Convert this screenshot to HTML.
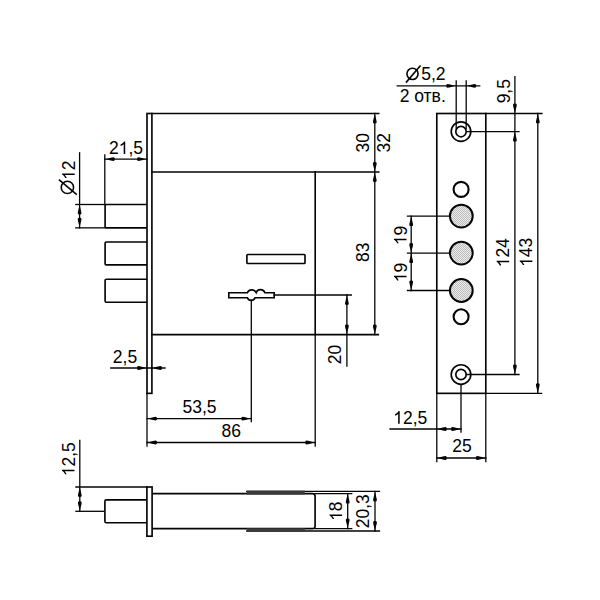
<!DOCTYPE html>
<html><head><meta charset="utf-8"><style>
html,body{margin:0;padding:0;background:#fff;width:600px;height:600px;overflow:hidden}
svg{display:block}
.o{stroke:#050505;stroke-width:1.65px}
.d{stroke:#050505;stroke-width:1.3px;stroke-linecap:square}
line.o{stroke-linecap:square}
.ar{fill:#050505;stroke:none}
.g1{fill:#000}
text{font-family:"Liberation Sans",sans-serif;font-size:17.5px;fill:#000}
</style></head><body>
<svg width="600" height="600" viewBox="0 0 600 600">
<defs><pattern id="hp" width="2" height="2" patternUnits="userSpaceOnUse"><rect width="2" height="2" fill="#ececec"/><rect width="1" height="1" fill="#bcbcbc"/><rect x="1" y="1" width="1" height="1" fill="#bcbcbc"/></pattern></defs>
<rect class="o" x="147.0" y="113.5" width="4.9" height="279.85" rx="0" fill="none"/>
<line class="o" x1="151.9" y1="113.5" x2="378.7" y2="113.5"/>
<line class="o" x1="151.9" y1="172.0" x2="378.7" y2="172.0"/>
<line class="o" x1="315.2" y1="172.0" x2="315.2" y2="334.6"/>
<line class="d" x1="315.2" y1="334.6" x2="315.2" y2="446"/>
<line class="o" x1="151.9" y1="334.6" x2="378.3" y2="334.6"/>
<rect class="o" x="246.9" y="254.5" width="58.1" height="9.0" rx="0.8" fill="none"/>
<path class="o" d="M228.8,292.7 H247.4 A4.93,4.93 0 0 1 256.2,292.5 A4.65,4.65 0 0 1 264.9,292.7 H274.2 V297.75 H255 A4.05,4.05 0 0 1 247.4,297.75 H228.8 Z" fill="#fff"/>
<line class="d" x1="274.2" y1="295" x2="351.3" y2="295"/>
<line class="d" x1="251.3" y1="300.3" x2="251.3" y2="421.7"/>
<path class="o" d="M147.0,204.5 H106.3 Q105.1,204.5 105.1,205.7 V226.65 Q105.1,227.85 106.3,227.85 H147.0" fill="none"/>
<path class="o" d="M147.0,242.0 H106.3 Q105.1,242.0 105.1,243.2 V263.65000000000003 Q105.1,264.85 106.3,264.85 H147.0" fill="none"/>
<path class="o" d="M147.0,279.2 H106.3 Q105.1,279.2 105.1,280.4 V301.0 Q105.1,302.2 106.3,302.2 H147.0" fill="none"/>
<line class="d" x1="75.8" y1="204.5" x2="105.1" y2="204.5"/>
<line class="d" x1="75.8" y1="227.85" x2="105.1" y2="227.85"/>
<line class="d" x1="79.6" y1="152.8" x2="79.6" y2="227.85"/>
<path class="ar" transform="translate(79.6,204.5) rotate(270)" d="M0,0 C-3.5,-0.5 -7,-1.9 -8.8,-1.9 Q-10,-1.9 -10,0 Q-10,1.9 -8.8,1.9 C-7,1.9 -3.5,0.5 0,0 Z"/>
<path class="ar" transform="translate(79.6,227.85) rotate(90)" d="M0,0 C-3.5,-0.5 -7,-1.9 -8.8,-1.9 Q-10,-1.9 -10,0 Q-10,1.9 -8.8,1.9 C-7,1.9 -3.5,0.5 0,0 Z"/>
<circle class="o" cx="67.4" cy="187.4" r="6.15" fill="none" style="stroke-width:1.6px"/>
<line class="o" x1="59.5" y1="180.1" x2="76.2" y2="194.1" style="stroke-width:1.6px"/>
<g transform="translate(68.35,170.25) rotate(-90) translate(-9.733,6.3)"><text x="0" y="0"> 2</text><path class="g1" transform="translate(0,0) scale(0.008545,-0.008545)" d="M763,0 H583 V1147 Q518,1085 412,1023 Q306,961 222,930 V1104 Q373,1175 486,1276 Q599,1377 646,1472 H763 Z"/></g>
<line class="d" x1="104.8" y1="155" x2="104.8" y2="204.5"/>
<line class="d" x1="104.8" y1="159.1" x2="147.0" y2="159.1"/>
<path class="ar" transform="translate(104.8,159.1) rotate(180)" d="M0,0 C-3.5,-0.5 -7,-1.9 -8.8,-1.9 Q-10,-1.9 -10,0 Q-10,1.9 -8.8,1.9 C-7,1.9 -3.5,0.5 0,0 Z"/>
<path class="ar" transform="translate(147.0,159.1) rotate(0)" d="M0,0 C-3.5,-0.5 -7,-1.9 -8.8,-1.9 Q-10,-1.9 -10,0 Q-10,1.9 -8.8,1.9 C-7,1.9 -3.5,0.5 0,0 Z"/>
<g transform="translate(108.97,154)"><text x="0" y="0">2 ,5</text><path class="g1" transform="translate(9.733,0) scale(0.008545,-0.008545)" d="M763,0 H583 V1147 Q518,1085 412,1023 Q306,961 222,930 V1104 Q373,1175 486,1276 Q599,1377 646,1472 H763 Z"/></g>
<line class="d" x1="110.8" y1="368" x2="165" y2="368"/>
<path class="ar" transform="translate(147.0,368) rotate(0)" d="M0,0 C-3.5,-0.5 -7,-1.9 -8.8,-1.9 Q-10,-1.9 -10,0 Q-10,1.9 -8.8,1.9 C-7,1.9 -3.5,0.5 0,0 Z"/>
<path class="ar" transform="translate(151.9,368) rotate(180)" d="M0,0 C-3.5,-0.5 -7,-1.9 -8.8,-1.9 Q-10,-1.9 -10,0 Q-10,1.9 -8.8,1.9 C-7,1.9 -3.5,0.5 0,0 Z"/>
<g transform="translate(112.836,362.5)"><text x="0" y="0">2,5</text></g>
<line class="d" x1="147.0" y1="393.35" x2="147.0" y2="446"/>
<line class="d" x1="147.0" y1="418.6" x2="251.3" y2="418.6"/>
<path class="ar" transform="translate(147.0,418.6) rotate(180)" d="M0,0 C-3.5,-0.5 -7,-1.9 -8.8,-1.9 Q-10,-1.9 -10,0 Q-10,1.9 -8.8,1.9 C-7,1.9 -3.5,0.5 0,0 Z"/>
<path class="ar" transform="translate(251.3,418.6) rotate(0)" d="M0,0 C-3.5,-0.5 -7,-1.9 -8.8,-1.9 Q-10,-1.9 -10,0 Q-10,1.9 -8.8,1.9 C-7,1.9 -3.5,0.5 0,0 Z"/>
<g transform="translate(182.47,413.2)"><text x="0" y="0">53,5</text></g>
<line class="d" x1="147.0" y1="442.5" x2="315.2" y2="442.5"/>
<path class="ar" transform="translate(147.0,442.5) rotate(180)" d="M0,0 C-3.5,-0.5 -7,-1.9 -8.8,-1.9 Q-10,-1.9 -10,0 Q-10,1.9 -8.8,1.9 C-7,1.9 -3.5,0.5 0,0 Z"/>
<path class="ar" transform="translate(315.2,442.5) rotate(0)" d="M0,0 C-3.5,-0.5 -7,-1.9 -8.8,-1.9 Q-10,-1.9 -10,0 Q-10,1.9 -8.8,1.9 C-7,1.9 -3.5,0.5 0,0 Z"/>
<g transform="translate(221.567,437.0)"><text x="0" y="0">86</text></g>
<line class="d" x1="374.8" y1="113.5" x2="374.8" y2="334.6"/>
<path class="ar" transform="translate(374.8,113.5) rotate(270)" d="M0,0 C-3.5,-0.5 -7,-1.9 -8.8,-1.9 Q-10,-1.9 -10,0 Q-10,1.9 -8.8,1.9 C-7,1.9 -3.5,0.5 0,0 Z"/>
<path class="ar" transform="translate(374.8,172.0) rotate(90)" d="M0,0 C-3.5,-0.5 -7,-1.9 -8.8,-1.9 Q-10,-1.9 -10,0 Q-10,1.9 -8.8,1.9 C-7,1.9 -3.5,0.5 0,0 Z"/>
<path class="ar" transform="translate(374.8,172.0) rotate(270)" d="M0,0 C-3.5,-0.5 -7,-1.9 -8.8,-1.9 Q-10,-1.9 -10,0 Q-10,1.9 -8.8,1.9 C-7,1.9 -3.5,0.5 0,0 Z"/>
<path class="ar" transform="translate(374.8,334.6) rotate(90)" d="M0,0 C-3.5,-0.5 -7,-1.9 -8.8,-1.9 Q-10,-1.9 -10,0 Q-10,1.9 -8.8,1.9 C-7,1.9 -3.5,0.5 0,0 Z"/>
<g transform="translate(363.0,142.75) rotate(-90) translate(-9.733,6.3)"><text x="0" y="0">30</text></g>
<g transform="translate(383.9,142.75) rotate(-90) translate(-9.733,6.3)"><text x="0" y="0">32</text></g>
<g transform="translate(362.8,252.2) rotate(-90) translate(-9.733,6.3)"><text x="0" y="0">83</text></g>
<line class="d" x1="346.9" y1="295" x2="346.9" y2="366"/>
<path class="ar" transform="translate(346.9,295) rotate(270)" d="M0,0 C-3.5,-0.5 -7,-1.9 -8.8,-1.9 Q-10,-1.9 -10,0 Q-10,1.9 -8.8,1.9 C-7,1.9 -3.5,0.5 0,0 Z"/>
<path class="ar" transform="translate(346.9,334.6) rotate(90)" d="M0,0 C-3.5,-0.5 -7,-1.9 -8.8,-1.9 Q-10,-1.9 -10,0 Q-10,1.9 -8.8,1.9 C-7,1.9 -3.5,0.5 0,0 Z"/>
<g transform="translate(335.1,354.4) rotate(-90) translate(-9.733,6.3)"><text x="0" y="0">20</text></g>
<rect class="o" x="436.8" y="113.5" width="49.0" height="279.85" rx="0" fill="none"/>
<line class="d" x1="485.8" y1="113.5" x2="542" y2="113.5"/>
<line class="d" x1="485.8" y1="393.35" x2="541.6" y2="393.35"/>
<circle class="o" cx="461" cy="131.6" r="9.8" fill="none"/>
<circle class="o" cx="461" cy="131.6" r="5.2" fill="none"/>
<circle class="o" cx="461" cy="374.5" r="9.8" fill="none"/>
<circle class="o" cx="461" cy="374.5" r="5.2" fill="none"/>
<circle class="o" cx="461.1" cy="189.4" r="7.5" fill="none" style="stroke-width:2.1px"/>
<circle class="o" cx="461.1" cy="316.7" r="7.5" fill="none" style="stroke-width:2.1px"/>
<circle class="o" cx="461.3" cy="216.1" r="11.4" fill="url(#hp)" style="stroke-width:2.0px"/>
<line class="d" x1="407.5" y1="216.1" x2="449.6" y2="216.1"/>
<circle class="o" cx="461.3" cy="253.1" r="11.4" fill="url(#hp)" style="stroke-width:2.0px"/>
<line class="d" x1="407.5" y1="253.1" x2="449.6" y2="253.1"/>
<circle class="o" cx="461.3" cy="290.5" r="11.4" fill="url(#hp)" style="stroke-width:2.0px"/>
<line class="d" x1="407.5" y1="290.5" x2="449.6" y2="290.5"/>
<line class="d" x1="411.2" y1="216.1" x2="411.2" y2="290.5"/>
<path class="ar" transform="translate(411.2,216.1) rotate(270)" d="M0,0 C-3.5,-0.5 -7,-1.9 -8.8,-1.9 Q-10,-1.9 -10,0 Q-10,1.9 -8.8,1.9 C-7,1.9 -3.5,0.5 0,0 Z"/>
<path class="ar" transform="translate(411.2,253.1) rotate(90)" d="M0,0 C-3.5,-0.5 -7,-1.9 -8.8,-1.9 Q-10,-1.9 -10,0 Q-10,1.9 -8.8,1.9 C-7,1.9 -3.5,0.5 0,0 Z"/>
<path class="ar" transform="translate(411.2,253.1) rotate(270)" d="M0,0 C-3.5,-0.5 -7,-1.9 -8.8,-1.9 Q-10,-1.9 -10,0 Q-10,1.9 -8.8,1.9 C-7,1.9 -3.5,0.5 0,0 Z"/>
<path class="ar" transform="translate(411.2,290.5) rotate(90)" d="M0,0 C-3.5,-0.5 -7,-1.9 -8.8,-1.9 Q-10,-1.9 -10,0 Q-10,1.9 -8.8,1.9 C-7,1.9 -3.5,0.5 0,0 Z"/>
<g transform="translate(400.25,235.5) rotate(-90) translate(-9.733,6.3)"><text x="0" y="0"> 9</text><path class="g1" transform="translate(0,0) scale(0.008545,-0.008545)" d="M763,0 H583 V1147 Q518,1085 412,1023 Q306,961 222,930 V1104 Q373,1175 486,1276 Q599,1377 646,1472 H763 Z"/></g>
<g transform="translate(400.25,272.6) rotate(-90) translate(-9.733,6.3)"><text x="0" y="0"> 9</text><path class="g1" transform="translate(0,0) scale(0.008545,-0.008545)" d="M763,0 H583 V1147 Q518,1085 412,1023 Q306,961 222,930 V1104 Q373,1175 486,1276 Q599,1377 646,1472 H763 Z"/></g>
<line class="d" x1="466.7" y1="131.6" x2="519" y2="131.6"/>
<line class="d" x1="466.2" y1="374.5" x2="519" y2="374.5"/>
<line class="d" x1="514.9" y1="76.6" x2="514.9" y2="374.5"/>
<path class="ar" transform="translate(514.9,113.5) rotate(90)" d="M0,0 C-3.5,-0.5 -7,-1.9 -8.8,-1.9 Q-10,-1.9 -10,0 Q-10,1.9 -8.8,1.9 C-7,1.9 -3.5,0.5 0,0 Z"/>
<path class="ar" transform="translate(514.9,131.6) rotate(270)" d="M0,0 C-3.5,-0.5 -7,-1.9 -8.8,-1.9 Q-10,-1.9 -10,0 Q-10,1.9 -8.8,1.9 C-7,1.9 -3.5,0.5 0,0 Z"/>
<path class="ar" transform="translate(514.9,374.5) rotate(90)" d="M0,0 C-3.5,-0.5 -7,-1.9 -8.8,-1.9 Q-10,-1.9 -10,0 Q-10,1.9 -8.8,1.9 C-7,1.9 -3.5,0.5 0,0 Z"/>
<g transform="translate(503.6,91.2) rotate(-90) translate(-12.164,6.3)"><text x="0" y="0">9,5</text></g>
<g transform="translate(502.9,252.75) rotate(-90) translate(-14.599,6.3)"><text x="0" y="0"> 24</text><path class="g1" transform="translate(0,0) scale(0.008545,-0.008545)" d="M763,0 H583 V1147 Q518,1085 412,1023 Q306,961 222,930 V1104 Q373,1175 486,1276 Q599,1377 646,1472 H763 Z"/></g>
<line class="d" x1="537.8" y1="113.5" x2="537.8" y2="393.35"/>
<path class="ar" transform="translate(537.8,113.5) rotate(270)" d="M0,0 C-3.5,-0.5 -7,-1.9 -8.8,-1.9 Q-10,-1.9 -10,0 Q-10,1.9 -8.8,1.9 C-7,1.9 -3.5,0.5 0,0 Z"/>
<path class="ar" transform="translate(537.8,393.35) rotate(90)" d="M0,0 C-3.5,-0.5 -7,-1.9 -8.8,-1.9 Q-10,-1.9 -10,0 Q-10,1.9 -8.8,1.9 C-7,1.9 -3.5,0.5 0,0 Z"/>
<g transform="translate(526,252.4) rotate(-90) translate(-14.599,6.3)"><text x="0" y="0"> 43</text><path class="g1" transform="translate(0,0) scale(0.008545,-0.008545)" d="M763,0 H583 V1147 Q518,1085 412,1023 Q306,961 222,930 V1104 Q373,1175 486,1276 Q599,1377 646,1472 H763 Z"/></g>
<line class="d" x1="456.2" y1="81" x2="456.2" y2="128.7"/>
<line class="d" x1="466.2" y1="81" x2="466.2" y2="128.7"/>
<line class="d" x1="397.2" y1="85.8" x2="479.7" y2="85.8"/>
<path class="ar" transform="translate(456.2,85.8) rotate(0)" d="M0,0 C-3.5,-0.5 -7,-1.9 -8.8,-1.9 Q-10,-1.9 -10,0 Q-10,1.9 -8.8,1.9 C-7,1.9 -3.5,0.5 0,0 Z"/>
<path class="ar" transform="translate(466.2,85.8) rotate(180)" d="M0,0 C-3.5,-0.5 -7,-1.9 -8.8,-1.9 Q-10,-1.9 -10,0 Q-10,1.9 -8.8,1.9 C-7,1.9 -3.5,0.5 0,0 Z"/>
<circle class="o" cx="412.5" cy="73.85" r="5.6" fill="none" style="stroke-width:1.6px"/>
<line class="o" x1="406.4" y1="82" x2="420" y2="66.2" style="stroke-width:1.6px"/>
<g transform="translate(421.2,80.4)"><text x="0" y="0">5,2</text></g>
<g transform="translate(399.649,101.9)"><text x="0" y="0">2 отв.</text></g>
<line class="d" x1="436.8" y1="393.35" x2="436.8" y2="461.7"/>
<line class="d" x1="485.8" y1="393.35" x2="485.8" y2="461.7"/>
<line class="d" x1="461" y1="385" x2="461" y2="432"/>
<line class="d" x1="390" y1="429" x2="461" y2="429"/>
<path class="ar" transform="translate(436.8,429) rotate(180)" d="M0,0 C-3.5,-0.5 -7,-1.9 -8.8,-1.9 Q-10,-1.9 -10,0 Q-10,1.9 -8.8,1.9 C-7,1.9 -3.5,0.5 0,0 Z"/>
<path class="ar" transform="translate(461,429) rotate(0)" d="M0,0 C-3.5,-0.5 -7,-1.9 -8.8,-1.9 Q-10,-1.9 -10,0 Q-10,1.9 -8.8,1.9 C-7,1.9 -3.5,0.5 0,0 Z"/>
<g transform="translate(393.17,423.7)"><text x="0" y="0"> 2,5</text><path class="g1" transform="translate(0,0) scale(0.008545,-0.008545)" d="M763,0 H583 V1147 Q518,1085 412,1023 Q306,961 222,930 V1104 Q373,1175 486,1276 Q599,1377 646,1472 H763 Z"/></g>
<line class="d" x1="436.8" y1="458" x2="485.8" y2="458"/>
<path class="ar" transform="translate(436.8,458) rotate(180)" d="M0,0 C-3.5,-0.5 -7,-1.9 -8.8,-1.9 Q-10,-1.9 -10,0 Q-10,1.9 -8.8,1.9 C-7,1.9 -3.5,0.5 0,0 Z"/>
<path class="ar" transform="translate(485.8,458) rotate(0)" d="M0,0 C-3.5,-0.5 -7,-1.9 -8.8,-1.9 Q-10,-1.9 -10,0 Q-10,1.9 -8.8,1.9 C-7,1.9 -3.5,0.5 0,0 Z"/>
<g transform="translate(452.267,452.4)"><text x="0" y="0">25</text></g>
<rect class="o" x="146.9" y="487.0" width="5.2" height="49.2" rx="0" fill="none"/>
<path class="o" d="M152.1,493.6 H312.5 Q315.1,493.6 315.1,496.2 V525.9 Q315.1,528.6 312.5,528.6 H152.1" fill="none"/>
<path class="o" d="M146.9,499.8 H106.3 Q104.9,499.8 104.9,501.2 V521.2 Q104.9,522.7 106.3,522.7 H146.9" fill="none"/>
<line class="d" x1="246.8" y1="491.4" x2="379.5" y2="491.4"/>
<line class="d" x1="246.8" y1="531.0" x2="379.5" y2="531.0"/>
<rect x="246.6" y="490.6" width="58.2" height="4.0" fill="#3a3a3a" stroke="none"/>
<rect x="246.9" y="528.2" width="57.9" height="3.8" fill="#3a3a3a" stroke="none"/>
<line class="d" x1="315.1" y1="493.6" x2="351.7" y2="493.6"/>
<line class="d" x1="315.1" y1="528.6" x2="351.7" y2="528.6"/>
<line class="d" x1="347.7" y1="493.6" x2="347.7" y2="528.6"/>
<path class="ar" transform="translate(347.7,493.6) rotate(270)" d="M0,0 C-3.5,-0.5 -7,-1.9 -8.8,-1.9 Q-10,-1.9 -10,0 Q-10,1.9 -8.8,1.9 C-7,1.9 -3.5,0.5 0,0 Z"/>
<path class="ar" transform="translate(347.7,528.6) rotate(90)" d="M0,0 C-3.5,-0.5 -7,-1.9 -8.8,-1.9 Q-10,-1.9 -10,0 Q-10,1.9 -8.8,1.9 C-7,1.9 -3.5,0.5 0,0 Z"/>
<line class="d" x1="375" y1="491.4" x2="375" y2="531.0"/>
<path class="ar" transform="translate(375,491.4) rotate(270)" d="M0,0 C-3.5,-0.5 -7,-1.9 -8.8,-1.9 Q-10,-1.9 -10,0 Q-10,1.9 -8.8,1.9 C-7,1.9 -3.5,0.5 0,0 Z"/>
<path class="ar" transform="translate(375,531.0) rotate(90)" d="M0,0 C-3.5,-0.5 -7,-1.9 -8.8,-1.9 Q-10,-1.9 -10,0 Q-10,1.9 -8.8,1.9 C-7,1.9 -3.5,0.5 0,0 Z"/>
<g transform="translate(335.8,511.2) rotate(-90) translate(-9.733,6.3)"><text x="0" y="0"> 8</text><path class="g1" transform="translate(0,0) scale(0.008545,-0.008545)" d="M763,0 H583 V1147 Q518,1085 412,1023 Q306,961 222,930 V1104 Q373,1175 486,1276 Q599,1377 646,1472 H763 Z"/></g>
<g transform="translate(362.7,511.3) rotate(-90) translate(-17.03,6.3)"><text x="0" y="0">20,3</text></g>
<line class="d" x1="79.8" y1="440.5" x2="79.8" y2="511.3"/>
<line class="d" x1="75.9" y1="487.0" x2="146.9" y2="487.0"/>
<line class="d" x1="75.9" y1="511.3" x2="103.5" y2="511.3"/>
<path class="ar" transform="translate(79.8,487.0) rotate(270)" d="M0,0 C-3.5,-0.5 -7,-1.9 -8.8,-1.9 Q-10,-1.9 -10,0 Q-10,1.9 -8.8,1.9 C-7,1.9 -3.5,0.5 0,0 Z"/>
<path class="ar" transform="translate(79.8,511.3) rotate(90)" d="M0,0 C-3.5,-0.5 -7,-1.9 -8.8,-1.9 Q-10,-1.9 -10,0 Q-10,1.9 -8.8,1.9 C-7,1.9 -3.5,0.5 0,0 Z"/>
<g transform="translate(68.2,459.2) rotate(-90) translate(-17.03,6.3)"><text x="0" y="0"> 2,5</text><path class="g1" transform="translate(0,0) scale(0.008545,-0.008545)" d="M763,0 H583 V1147 Q518,1085 412,1023 Q306,961 222,930 V1104 Q373,1175 486,1276 Q599,1377 646,1472 H763 Z"/></g>
</svg>
</body></html>
